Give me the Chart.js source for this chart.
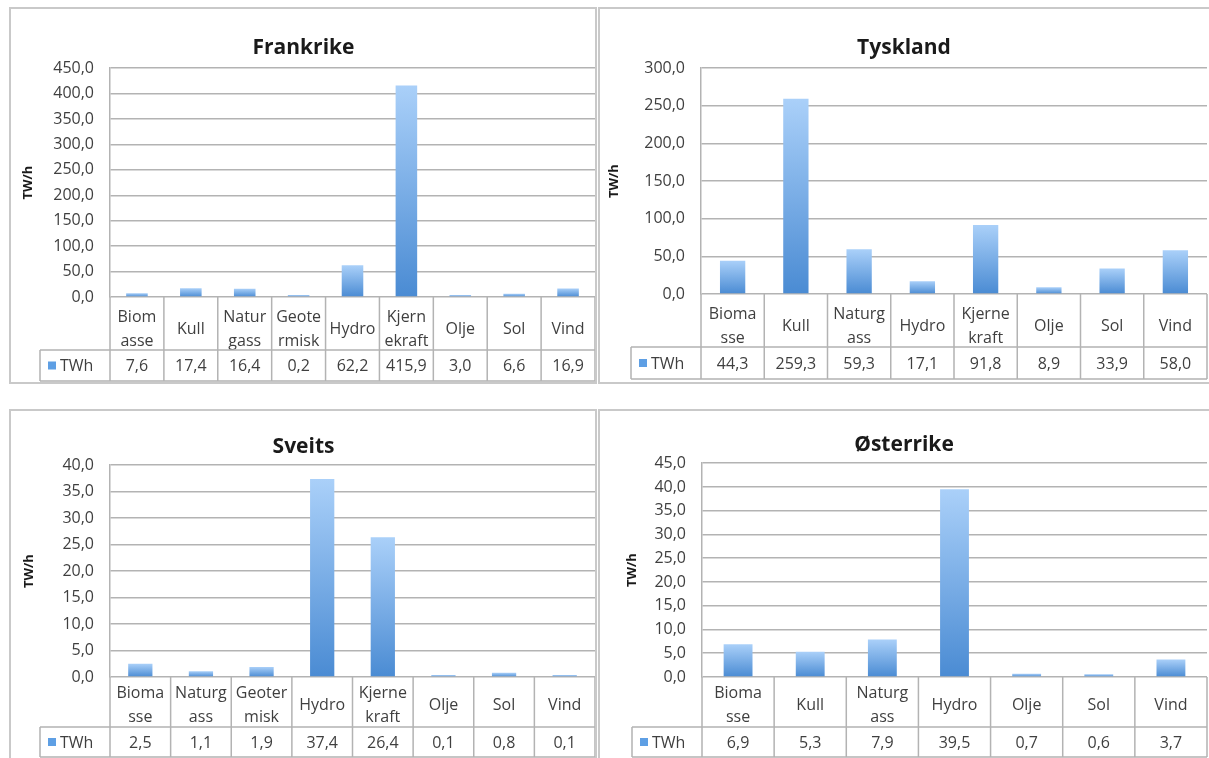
<!DOCTYPE html>
<html><head><meta charset="utf-8">
<script src="https://cdn.jsdelivr.net/npm/chart.js@4.4.0/dist/chart.umd.min.js"></script>
<style>
html,body{margin:0;padding:0;background:#fff;}
body{width:1209px;height:758px;overflow:hidden;position:relative;font-family:"Open Sans",sans-serif;}
.frame{position:absolute;border:2px solid #c9c9c9;box-sizing:border-box;background:#fff;}
canvas{position:absolute;}
</style></head>
<body>
<div class="frame" style="left:9px;top:7px;width:588px;height:377px"></div>
<div class="frame" style="left:598px;top:7px;width:630px;height:377px"></div>
<div class="frame" style="left:9px;top:409px;width:588px;height:400px"></div>
<div class="frame" style="left:598px;top:409px;width:630px;height:400px"></div>
<canvas id="c1" style="left:12px;top:10px;width:583px;height:372px"></canvas>
<canvas id="c2" style="left:601px;top:10px;width:608px;height:372px"></canvas>
<canvas id="c3" style="left:12px;top:412px;width:583px;height:346px"></canvas>
<canvas id="c4" style="left:601px;top:412px;width:608px;height:346px"></canvas>
<script>
// ---- data ----
const seriesName = "TWh";
const axisTitle = "TW/h";

const frTitle = "Frankrike";
const frCategories = [["Biom","asse"],"Kull",["Natur","gass"],["Geote","rmisk"],"Hydro",["Kjern","ekraft"],"Olje","Sol","Vind"];
const frValues = [7.6, 17.4, 16.4, 0.2, 62.2, 415.9, 3.0, 6.6, 16.9];
const frTicks = {max: 450, step: 50};

const deTitle = "Tyskland";
const deCategories = [["Bioma","sse"],"Kull",["Naturg","ass"],"Hydro",["Kjerne","kraft"],"Olje","Sol","Vind"];
const deValues = [44.3, 259.3, 59.3, 17.1, 91.8, 8.9, 33.9, 58.0];
const deTicks = {max: 300, step: 50};

const chTitle = "Sveits";
const chCategories = [["Bioma","sse"],["Naturg","ass"],["Geoter","misk"],"Hydro",["Kjerne","kraft"],"Olje","Sol","Vind"];
const chValues = [2.5, 1.1, 1.9, 37.4, 26.4, 0.1, 0.8, 0.1];
const chTicks = {max: 40, step: 5};

const atTitle = "Østerrike";
const atCategories = [["Bioma","sse"],"Kull",["Naturg","ass"],"Hydro","Olje","Sol","Vind"];
const atValues = [6.9, 5.3, 7.9, 39.5, 0.7, 0.6, 3.7];
const atTicks = {max: 45, step: 5};

// ---- helpers ----
const FONT = '"Open Sans", sans-serif';
const TEXT = '#3f3f3f';
const GRID = '#b3b3b3';
const fmt = v => Number(v).toFixed(1).replace('.', ',');

function barFill(c) {
  const chart = c.chart;
  if (c.type !== 'data' || !chart.chartArea) return '#6ea8e8';
  const y = chart.scales.y;
  const bot = y.getPixelForValue(0);
  let top = y.getPixelForValue(c.raw);
  if (bot - top < 2) top = bot - 2;
  const g = chart.ctx.createLinearGradient(0, top, 0, bot);
  g.addColorStop(0, '#aad0f9');
  g.addColorStop(1, '#4a8bd3');
  return g;
}

const tablePlugin = {
  id: 'dataTable',
  afterDraw(chart, args, o) {
    const {ctx, chartArea: a} = chart;
    const xs = chart.scales.x;
    const n = chart.data.labels.length;
    const colW = (a.right - a.left) / n;
    const top = a.bottom, catBot = xs.bottom, bot = catBot + o.rowH;
    const legL = a.left - 70;
    ctx.save();
    ctx.strokeStyle = GRID; ctx.lineWidth = 1.5;
    ctx.beginPath();
    for (let i = 0; i <= n; i++) {
      const x = xs.getPixelForValue(i) - colW / 2;
      ctx.moveTo(x, top); ctx.lineTo(x, bot);
    }
    ctx.moveTo(legL, catBot); ctx.lineTo(a.right, catBot);
    ctx.moveTo(legL, bot); ctx.lineTo(a.right, bot);
    ctx.moveTo(legL, catBot); ctx.lineTo(legL, bot);
    ctx.stroke();
    const mid = (catBot + bot) / 2 + 1;
    ctx.fillStyle = TEXT;
    ctx.font = '16px ' + FONT;
    ctx.textAlign = 'center'; ctx.textBaseline = 'middle';
    chart.data.datasets[0].data.forEach((v, i) => {
      ctx.fillText(fmt(v), xs.getPixelForValue(i), mid);
    });
    ctx.fillStyle = '#5e9fe4';
    ctx.fillRect(legL + 8, mid - 5, 8, 8);
    ctx.fillStyle = TEXT; ctx.textAlign = 'left';
    ctx.fillText(chart.data.datasets[0].label, legL + 20, mid);
    ctx.restore();
  }
};

function makeChart(id, title, cats, vals, ticks, g) {
  const cv = document.getElementById(id);
  return new Chart(cv, {
    type: 'bar',
    data: {
      labels: cats,
      datasets: [{
        label: seriesName,
        data: vals,
        backgroundColor: barFill,
        borderWidth: 0,
        barPercentage: 0.4,
        categoryPercentage: 1,
        minBarLength: 2
      }]
    },
    options: {
      responsive: false,
      animation: false,
      events: [],
      layout: {padding: {left: 0, top: 0, right: g.padR, bottom: g.padB}},
      plugins: {
        legend: {display: false},
        tooltip: {enabled: false},
        title: {
          display: true, text: title, color: '#1a1a1a',
          font: {family: FONT, size: 21, weight: 'bold', lineHeight: 1.2},
          padding: {top: g.tTop, bottom: g.tBot}
        },
        dataTable: {rowH: g.rowH}
      },
      scales: {
        x: {
          offset: true,
          grid: {display: false, drawTicks: false},
          border: {display: false},
          ticks: {
            color: TEXT, padding: g.xPad, crossAlign: 'center', maxRotation: 0, autoSkip: false,
            font: {family: FONT, size: 16, lineHeight: '24px'}
          },
          afterFit(s) { s.height = g.xH; s.paddingLeft = 0; s.paddingRight = 0; }
        },
        y: {
          min: 0, max: ticks.max,
          grid: {color: GRID, lineWidth: 1.5, drawTicks: false},
          border: {display: true, color: GRID, width: 1.5},
          ticks: {
            stepSize: ticks.step, color: TEXT, padding: 16,
            font: {family: FONT, size: 16},
            callback: v => fmt(v)
          },
          title: {
            display: true, text: axisTitle, color: '#1a1a1a',
            font: {family: FONT, size: 13, weight: 'bold', lineHeight: 1.2},
            padding: {top: g.yTitle, bottom: 0}
          },
          afterFit(s) { s.width = g.yW; }
        }
      }
    },
    plugins: [tablePlugin]
  });
}

function sizeCanvas(id) {
  const c = document.getElementById(id);
  c.width = parseInt(c.style.width); c.height = parseInt(c.style.height);
}
['c1','c2','c3','c4'].forEach(sizeCanvas);

makeChart('c1', frTitle, frCategories, frValues, frTicks,
  {yW: 98, padR: 0, padB: 32, tTop: 25, tBot: 8, xH: 53, xPad: 20, rowH: 31, yTitle: 8});
makeChart('c2', deTitle, deCategories, deValues, deTicks,
  {yW: 100, padR: 2, padB: 35, tTop: 25, tBot: 8, xH: 53, xPad: 20, rowH: 32, yTitle: 5});
makeChart('c3', chTitle, chCategories, chValues, chTicks,
  {yW: 98, padR: 0, padB: 31, tTop: 22, tBot: 6, xH: 50, xPad: 16, rowH: 30, yTitle: 9});
makeChart('c4', atTitle, atCategories, atValues, atTicks,
  {yW: 101, padR: 2, padB: 31, tTop: 20, tBot: 6, xH: 50, xPad: 16, rowH: 30, yTitle: 23});
</script>
</body></html>
